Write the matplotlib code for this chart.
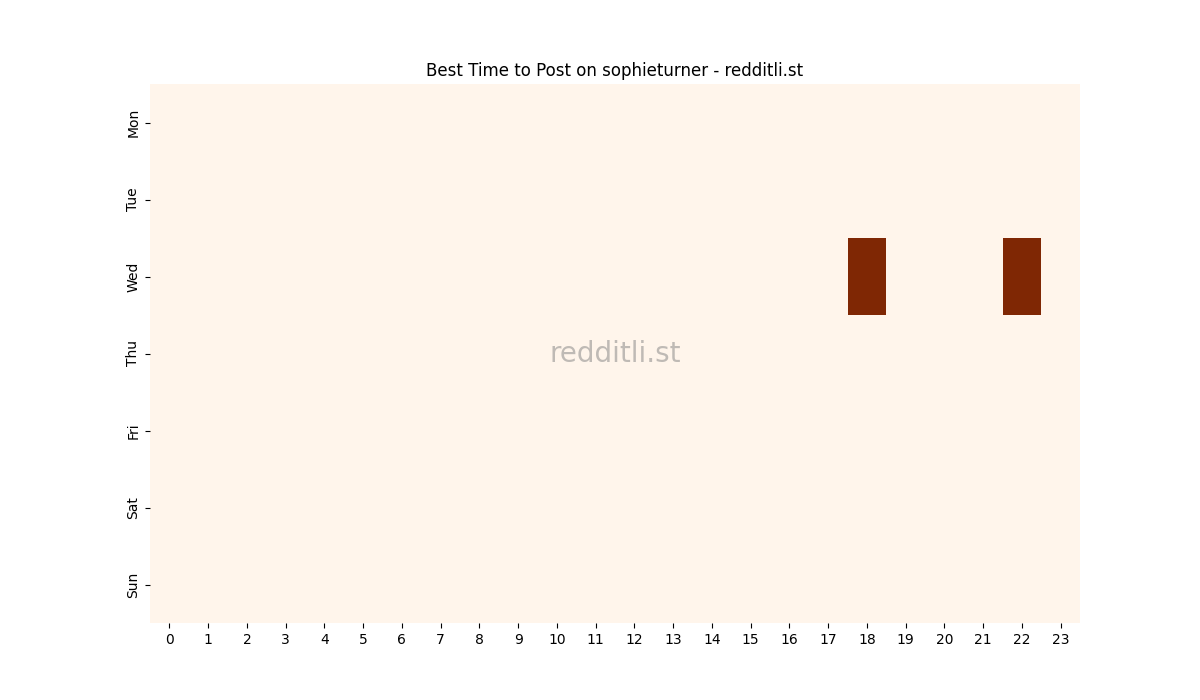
import matplotlib
matplotlib.use("Agg")
import matplotlib.pyplot as plt
import seaborn as sns
import numpy as np
import pandas as pd

days = ["Mon", "Tue", "Wed", "Thu", "Fri", "Sat", "Sun"]
hours = list(range(24))
# posts per (day, hour) - only two non-zero cells
mon = [0] * 24
tue = [0] * 24
wed = [0] * 24
wed[18] = 1
wed[22] = 1
thu = [0] * 24
fri = [0] * 24
sat = [0] * 24
sun = [0] * 24

df = pd.DataFrame([mon, tue, wed, thu, fri, sat, sun], index=days, columns=hours)

fig, ax = plt.subplots(figsize=(12, 7), dpi=100)
sns.heatmap(df, cmap="Oranges", cbar=False, ax=ax)
ax.set_title("Best Time to Post on sophieturner - redditli.st")
ax.set_xlabel("")
ax.set_ylabel("")
ax.tick_params(axis="x", rotation=0)
ax.tick_params(axis="y", rotation=90)
ax.text(0.5, 0.5, "redditli.st", transform=ax.transAxes, ha="center", va="center",
        fontsize=20, color="gray", alpha=0.5)

plt.savefig("out.png", dpi=100)
